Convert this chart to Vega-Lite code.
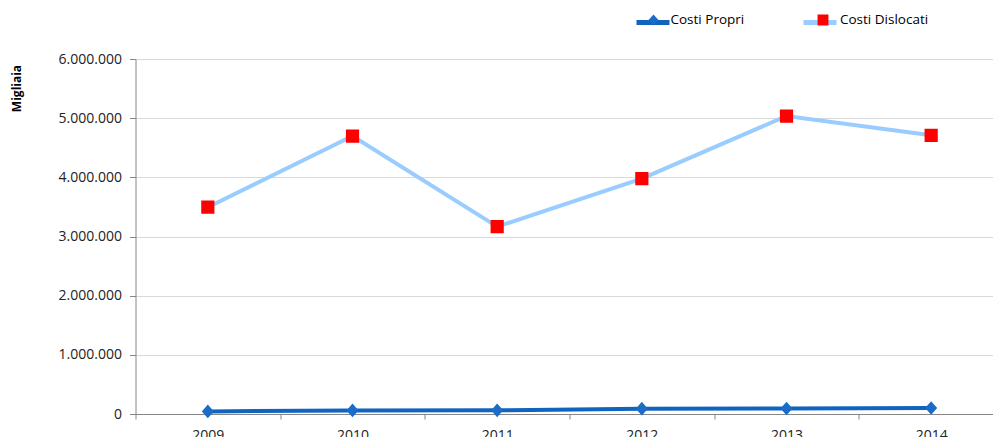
{
  "$schema": "https://vega.github.io/schema/vega-lite/v6.json",
  "width": 868,
  "height": 355,
  "autosize": "none",
  "padding": {"left": 135.5, "top": 59, "right": 0, "bottom": 23},
  "background": "white",
  "config": {
    "font": "Open Sans",
    "view": {"stroke": null},
    "locale": {"number": {"decimal": ",", "thousands": ".", "grouping": [3], "currency": ["", " €"]}},
    "legend": {"padding": 0}
  },
  "data": {
    "values": [
      {"anno": "2009", "serie": "Costi Propri", "valore": 44000},
      {"anno": "2010", "serie": "Costi Propri", "valore": 61000},
      {"anno": "2011", "serie": "Costi Propri", "valore": 62000},
      {"anno": "2012", "serie": "Costi Propri", "valore": 90000},
      {"anno": "2013", "serie": "Costi Propri", "valore": 93000},
      {"anno": "2014", "serie": "Costi Propri", "valore": 101000},
      {"anno": "2009", "serie": "Costi Dislocati", "valore": 3495000},
      {"anno": "2010", "serie": "Costi Dislocati", "valore": 4698000},
      {"anno": "2011", "serie": "Costi Dislocati", "valore": 3166000},
      {"anno": "2012", "serie": "Costi Dislocati", "valore": 3977000},
      {"anno": "2013", "serie": "Costi Dislocati", "valore": 5036000},
      {"anno": "2014", "serie": "Costi Dislocati", "valore": 4710000}
    ]
  },
  "encoding": {
    "x": {
      "field": "anno",
      "type": "ordinal",
      "scale": {"type": "band", "paddingInner": 0, "paddingOuter": 0},
      "axis": {
        "title": null,
        "labelAngle": 0,
        "tickBand": "extent",
        "domainColor": "#868686",
        "tickColor": "#868686",
        "tickSize": 5,
        "labelPadding": 9,
        "labelFontSize": 14,
        "labelColor": "#222222",
        "grid": false
      }
    },
    "y": {
      "field": "valore",
      "type": "quantitative",
      "scale": {"domain": [0, 6000000], "nice": false},
      "axis": {
        "values": [0, 1000000, 2000000, 3000000, 4000000, 5000000, 6000000],
        "format": ",.0f",
        "title": "Migliaia",
        "titleFont": "Open Sans",
        "titleFontSize": 12,
        "titleFontWeight": "bold",
        "titleColor": "#000000",
        "titleAngle": -90,
        "titleX": -115,
        "titleY": 29,
        "titleAlign": "center",
        "titleBaseline": "alphabetic",
        "domainColor": "#868686",
        "tickColor": "#868686",
        "tickSize": 6,
        "labelPadding": 8,
        "labelFontSize": 14,
        "labelColor": "#222222",
        "gridColor": "#D9D9D9",
        "gridWidth": 1
      }
    }
  },
  "layer": [
    {
      "mark": {"type": "line", "strokeWidth": 4},
      "encoding": {
        "color": {
          "field": "serie",
          "type": "nominal",
          "sort": "descending",
          "scale": {"range": ["#1064C0", "#99CCFF"]},
          "legend": {
            "title": null,
            "orient": "none",
            "direction": "horizontal",
            "legendX": 498.5,
            "legendY": -55.5,
            "symbolType": "M-1,0H1",
            "symbolSize": 1089,
            "symbolStrokeWidth": 5,
            "labelOffset": 2,
            "columnPadding": 45,
            "labelFontSize": 13.5,
            "labelOpacity": 0
          }
        }
      }
    },
    {
      "mark": {"type": "point", "filled": true, "size": 1600, "opacity": 1, "strokeWidth": 0},
      "encoding": {
        "fill": {
          "field": "serie",
          "type": "nominal",
          "scale": {"domain": ["Costi Propri", "Costi Dislocati"], "range": ["#1A6CC6", "#FF0000"]},
          "legend": {
            "title": null,
            "orient": "none",
            "direction": "horizontal",
            "legendX": 501.5,
            "legendY": -55.5,
            "symbolSize": 1089,
            "symbolStrokeWidth": 0,
            "symbolOpacity": 1,
            "labelOffset": 0.5,
            "columnPadding": 58.5,
            "labelFontSize": 13.5,
            "labelColor": "#000000"
          }
        },
        "shape": {
          "field": "serie",
          "type": "nominal",
          "scale": {"domain": ["Costi Propri", "Costi Dislocati"], "range": ["M-1.15,0L-1.15,0.001M1.15,0L1.15,0.001M0,-0.34L0.3,0L0,0.34L-0.3,0Z", "M-1.15,0L-1.15,0.001M1.15,0L1.15,0.001M-0.33,-0.33H0.33V0.33H-0.33Z"]},
          "legend": {
            "title": null,
            "orient": "none",
            "direction": "horizontal",
            "legendX": 501.5,
            "legendY": -55.5,
            "symbolSize": 1089,
            "symbolStrokeWidth": 0,
            "symbolOpacity": 1,
            "labelOffset": 0.5,
            "columnPadding": 58.5,
            "labelFontSize": 13.5,
            "labelColor": "#000000"
          }
        }
      }
    }
  ]
}
